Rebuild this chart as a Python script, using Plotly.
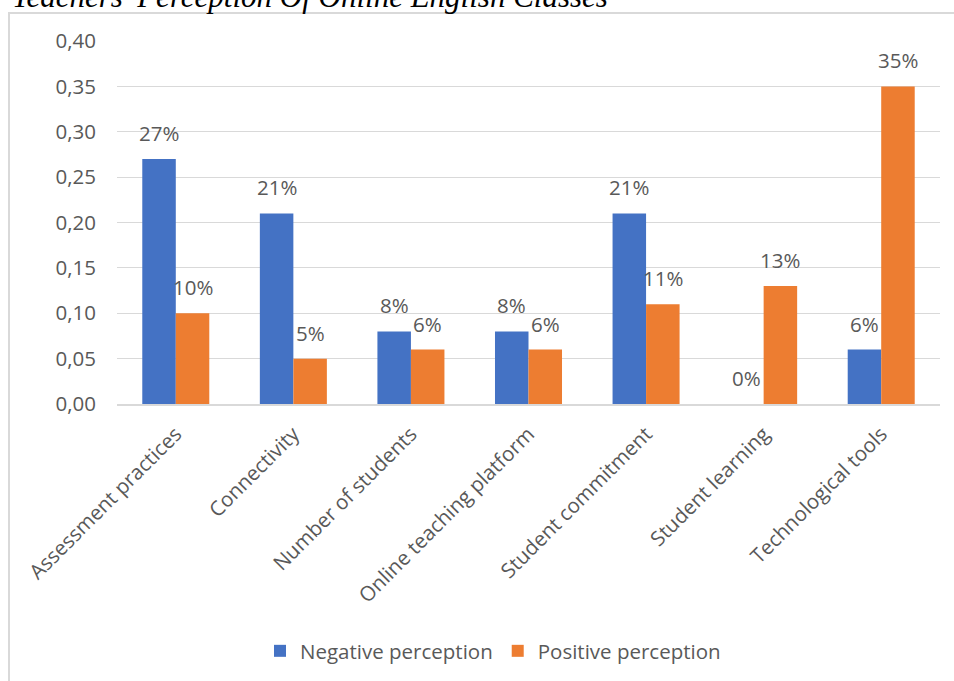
import plotly.graph_objects as go

# Survey results: share of teacher comments per theme
categories = [
    "Assessment practices",
    "Connectivity",
    "Number of students",
    "Online teaching platform",
    "Student commitment",
    "Student learning",
    "Technological tools",
]
negative = [0.27, 0.21, 0.08, 0.08, 0.21, 0.00, 0.06]
positive = [0.10, 0.05, 0.06, 0.06, 0.11, 0.13, 0.35]
y_ticks = [0.00, 0.05, 0.10, 0.15, 0.20, 0.25, 0.30, 0.35, 0.40]

BLUE = "#4472C4"
ORANGE = "#ED7D31"
GREY_TEXT = "#595959"
GRID = "#D9D9D9"
FONT = "Open Sans"
FS = 20.5

W, H = 954, 681
M_L, M_R, M_T, M_B = 117, 14, 41, 277
plot_w = W - M_L - M_R
plot_h = H - M_T - M_B

fig = go.Figure()
fig.add_trace(go.Bar(name="Negative perception", x=categories, y=negative,
                     marker=dict(color=BLUE, line=dict(width=0))))
fig.add_trace(go.Bar(name="Positive perception", x=categories, y=positive,
                     marker=dict(color=ORANGE, line=dict(width=0))))

bargap = 0.43
bar_px = plot_w / len(categories) * (1 - bargap) / 2

# Percentage labels above each bar
annotations = []
for series, shift in ((negative, -bar_px / 2), (positive, bar_px / 2)):
    for cat, v in zip(categories, series):
        annotations.append(dict(
            x=cat, y=v, xref="x", yref="y", text=f"{round(v * 100)}%",
            showarrow=False, xshift=shift, yshift=26, yanchor="middle",
            font=dict(family=FONT, size=FS, color=GREY_TEXT)))

# Caption above the chart frame
annotations.append(dict(
    x=(10 - M_L) / plot_w, y=1, xref="paper", yref="paper", xanchor="left",
    yanchor="bottom", yshift=25, showarrow=False,
    text="<i>Teachers' Perception Of Online English Classes</i>",
    font=dict(family="Liberation Serif", size=31, color="#000000")))

fig.update_layout(
    width=W, height=H,
    margin=dict(l=M_L, r=M_R, t=M_T, b=M_B, pad=0),
    paper_bgcolor="white", plot_bgcolor="white",
    barmode="group", bargap=bargap, bargroupgap=0,
    separators=", ",
    font=dict(family=FONT, size=FS, color=GREY_TEXT),
    showlegend=True,
    legend=dict(orientation="h", x=493 / W, xref="container", xanchor="center",
                y=(H - 651) / H, yref="container", yanchor="middle",
                font=dict(family=FONT, size=FS, color=GREY_TEXT),
                itemclick=False, bgcolor="rgba(0,0,0,0)"),
    annotations=annotations,
    shapes=[dict(type="rect", xref="paper", yref="paper",
                 x0=(9 - M_L) / plot_w, x1=(W + 10 - M_L) / plot_w,
                 y0=-(M_B + 10) / plot_h, y1=1 + (M_T - 13) / plot_h,
                 line=dict(color=GRID, width=2), layer="below")],
)

fig.update_yaxes(range=[0, 0.40], tickvals=y_ticks, tickformat=".2f",
                 showgrid=True, gridcolor=GRID, gridwidth=1,
                 zeroline=False, showline=False, ticks="",
                 ticklabelstandoff=20,
                 tickfont=dict(family=FONT, size=FS, color=GREY_TEXT))
fig.update_xaxes(tickangle=-45, showline=True, linecolor=GRID, linewidth=2,
                 ticks="", ticklabelstandoff=8,
                 tickfont=dict(family=FONT, size=FS, color=GREY_TEXT))

fig.write_html("out.html")
